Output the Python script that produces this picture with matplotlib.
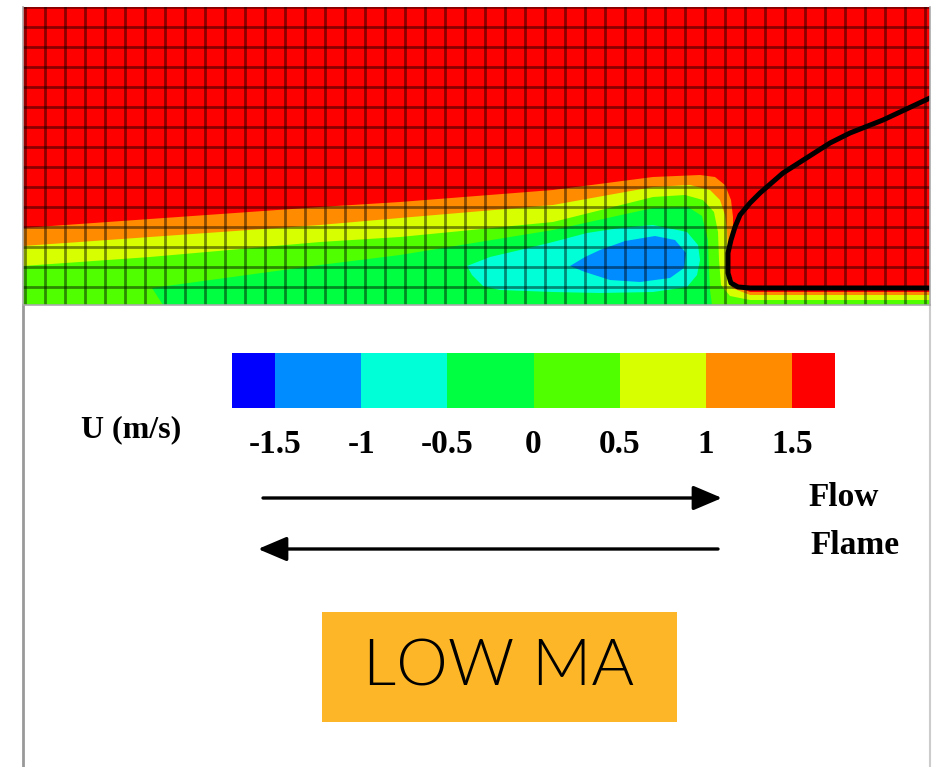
"""Velocity contour (U, m/s) behind a flame front with legend and flow/flame arrows."""

import matplotlib.pyplot as plt
import numpy as np
from matplotlib.cm import ScalarMappable
from matplotlib.colors import BoundaryNorm, ListedColormap
from matplotlib.patches import Rectangle

plt.rcParams["font.family"] = ["Liberation Serif", "DejaVu Serif"]

# colour levels of U (m/s)
levels = [-1.75, -1.5, -1.0, -0.5, 0.0, 0.5, 1.0, 1.5, 1.75]
level_colors = ["#0000FF", "#008CFF", "#00FFD7", "#00FF40",
                "#50FF00", "#D7FF00", "#FF8C00", "#FF0000"]
tick_values = [-1.5, -1, -0.5, 0, 0.5, 1, 1.5]
tick_labels = ["-1.5", "-1", "-0.5", "0", "0.5", "1", "1.5"]

# domain size in mesh cells
x_len, y_len = 45.35, 14.9

# contour lines (mesh-cell units, y from the wall)
u15_x = [0.0, 6.35, 14.85, 18.85, 26.5, 31.5, 33.85, 34.6, 35.1, 35.4, 35.5, 35.5,
         35.35, 35.35, 35.6, 36.35, 45.35]
u15_y = [3.85, 4.3, 4.9, 5.15, 5.75, 6.4, 6.5, 6.4, 6.0, 5.25, 4.4, 3.9,
         2.6, 1.6, 0.95, 0.65, 0.65]
u10_x = [0.0, 6.35, 14.85, 18.85, 26.5, 31.5, 33.35, 34.35, 34.85, 35.1, 35.2,
         35.25, 35.25, 35.45, 36.35, 45.35]
u10_y = [2.95, 3.4, 4.0, 4.35, 5.0, 5.9, 6.0, 5.75, 5.25, 4.5, 3.75,
         2.6, 1.5, 0.85, 0.5, 0.5]
u05_x = [0.0, 6.35, 14.85, 18.85, 26.5, 31.5, 33.1, 34.0, 34.55, 34.75, 34.8,
         34.9, 35.35, 36.35, 45.35]
u05_y = [1.95, 2.4, 3.15, 3.4, 4.15, 5.4, 5.5, 5.25, 4.65, 3.65, 2.25,
         1.0, 0.45, 0.25, 0.25]
u00_x = [7.0, 6.45, 14.85, 18.85, 26.5, 31.5, 33.25, 33.95, 34.25, 34.3, 34.35, 34.45]
u00_y = [0.0, 0.85, 2.0, 2.5, 3.75, 4.85, 4.9, 4.45, 3.25, 1.75, 0.75, 0.0]
um05_x = [22.2, 23.35, 24.85, 26.5, 28.2, 29.85, 31.5, 33.2, 33.75, 33.85, 33.7,
          33.2, 31.5, 28.85, 26.5, 23.85, 23.0, 22.45]
um05_y = [1.95, 2.4, 2.75, 3.15, 3.6, 3.85, 4.0, 3.65, 3.0, 2.25, 1.5,
          0.9, 0.65, 0.6, 0.65, 0.75, 0.95, 1.5]
um10_x = [27.35, 28.1, 28.85, 30.1, 31.6, 32.6, 33.15, 33.05, 32.35, 30.85, 29.35, 28.1]
um10_y = [1.95, 2.4, 2.75, 3.2, 3.45, 3.25, 2.6, 1.85, 1.35, 1.15, 1.25, 1.65]

# flame front
flame_x = [45.35, 43.0, 41.35, 40.35, 38.0, 36.85, 36.35, 35.85, 35.6, 35.4,
           35.25, 35.25, 35.4, 35.75, 36.35, 45.35]
flame_y = [10.35, 9.25, 8.6, 8.1, 6.6, 5.6, 5.1, 4.5, 3.9, 3.25,
           2.6, 1.6, 1.1, 0.9, 0.85, 0.85]

# mesh lines
mesh_x = 0.1 + np.arange(46)
mesh_y = 0.9 + np.arange(15)

W, H = 933, 767


def px_rect(x0, y0, x1, y1):
    return [x0 / W, 1 - y1 / H, (x1 - x0) / W, (y1 - y0) / H]


cmap = ListedColormap(level_colors)
norm = BoundaryNorm(levels, cmap.N)

fig = plt.figure(figsize=(W / 100, H / 100), dpi=100)

ax = fig.add_axes(px_rect(23, 7, 930, 305))
ax.set_xlim(0, x_len)
ax.set_ylim(0, y_len)
ax.set_facecolor(cmap(norm(1.6)))

# open contours closed along the wall
for xs, ys, val in [(u15_x, u15_y, 1.25), (u10_x, u10_y, 0.75), (u05_x, u05_y, 0.25)]:
    ax.fill(np.r_[xs, x_len, 0.0], np.r_[ys, 0.0, 0.0], color=cmap(norm(val)), lw=0)
for xs, ys, val in [(u00_x, u00_y, -0.25), (um05_x, um05_y, -0.75), (um10_x, um10_y, -1.25)]:
    ax.fill(xs, ys, color=cmap(norm(val)), lw=0)

for x in mesh_x:
    ax.axvline(x, color="black", alpha=0.45, lw=2.0)
for y in mesh_y:
    ax.axhline(y, color="black", alpha=0.45, lw=2.0)

ax.plot(flame_x, flame_y, color="black", lw=3.6, solid_capstyle="round")
ax.set_xticks([])
ax.set_yticks([])
for s in ax.spines.values():
    s.set_color("#aaaaaa")
    s.set_linewidth(1.2)
ax.spines["top"].set_visible(False)

# colour bar
cax = fig.add_axes(px_rect(232, 353, 835, 408))
cb = fig.colorbar(ScalarMappable(norm=norm, cmap=cmap), cax=cax, orientation="horizontal",
                  boundaries=levels, spacing="proportional", ticks=tick_values)
cb.outline.set_visible(False)
cb.ax.minorticks_off()
cb.ax.set_xticklabels(tick_labels)
cb.ax.tick_params(which="both", length=0, pad=15, labelsize=24)
for s in cb.ax.spines.values():
    s.set_visible(False)
for t in cb.ax.get_xticklabels():
    t.set_fontweight("bold")

# overlay in pixel coordinates
ov = fig.add_axes([0, 0, 1, 1], zorder=-1)
ov.set_xlim(0, W)
ov.set_ylim(H, 0)
ov.axis("off")
ov.plot([23, 23], [305, H], color="#999999", lw=2)
ov.plot([930, 930], [305, H], color="#cccccc", lw=1.5)

top = fig.add_axes([0, 0, 1, 1], zorder=5)
top.set_xlim(0, W)
top.set_ylim(H, 0)
top.axis("off")
top.patch.set_alpha(0)

top.text(131, 430, "U (m/s)", fontsize=23, fontweight="bold", ha="center", va="center")

arrow = dict(arrowstyle="-|>,head_length=0.8,head_width=0.34", lw=2.4, color="black",
             mutation_scale=22, shrinkA=0, shrinkB=0)
top.annotate("", xy=(722, 498), xytext=(263, 498), arrowprops=arrow)
top.annotate("", xy=(258, 549), xytext=(718, 549), arrowprops=arrow)
top.text(808, 497, "Flow", fontsize=24, fontweight="bold", ha="left", va="center")
top.text(810, 545, "Flame", fontsize=24, fontweight="bold", ha="left", va="center")

top.add_patch(Rectangle((322, 612), 355, 110, color="#FDB628", lw=0))
top.text(499, 667, "LOW MA", fontsize=47, family=["Lato", "DejaVu Sans"], fontweight=300,
         color="black", ha="center", va="center")

fig.savefig("out.png", dpi=100)
